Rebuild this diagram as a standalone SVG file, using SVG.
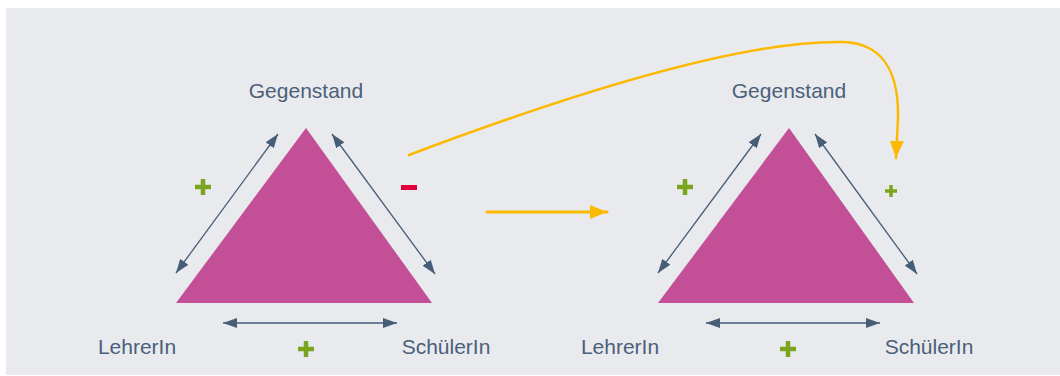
<svg xmlns="http://www.w3.org/2000/svg" width="1060" height="376" viewBox="0 0 1060 376">
<style>
.bg{fill:#e9eaee}
.tri{fill:#c35096}
.lbl{font-family:"Liberation Sans",Arial,sans-serif;font-size:21px;fill:#4b6079;text-anchor:middle}
.rel{stroke:#465d78;stroke-width:1.3;fill:none;marker-start:url(#ah);marker-end:url(#ah)}
.plus{stroke:#7ca51f;stroke-width:4.5;fill:none}
.plus-s{stroke:#7ca51f;stroke-width:3.5;fill:none}
.minus{stroke:#e2003c;stroke-width:5;fill:none}
.flow{stroke:#fbb900;fill:none;stroke-linecap:round}
</style>
<defs>
<marker id="ah" markerUnits="userSpaceOnUse" markerWidth="14" markerHeight="10" refX="14" refY="5" orient="auto-start-reverse">
<path d="M0,0 L14,5 L0,10 Z" fill="#465d78"/>
</marker>
<marker id="ya" markerUnits="userSpaceOnUse" markerWidth="17" markerHeight="14" refX="17" refY="7" orient="auto">
<path d="M0,0 L17,7 L0,14 Z" fill="#fbb900"/>
</marker>
</defs>
<rect class="bg" x="6" y="8" width="1054" height="367"/>

<g id="triangle-before">
<polygon class="tri" points="306,128 176,303 432,303"/>
<text class="lbl" x="306" y="98">Gegenstand</text>
<text class="lbl" x="137" y="354">LehrerIn</text>
<text class="lbl" x="446" y="354">SchülerIn</text>
</g>

<g id="triangle-after">
<polygon class="tri" points="789,128 658,303 914,303"/>
<text class="lbl" x="789" y="98">Gegenstand</text>
<text class="lbl" x="620" y="354">LehrerIn</text>
<text class="lbl" x="929" y="354">SchülerIn</text>
</g>

<g id="signs">
<path class="plus" d="M195,187 H211 M203,179 V195"/>
<path class="minus" d="M401,187.5 H417"/>
<path class="plus" d="M298,349 H314 M306,341 V357"/>
<path class="plus" d="M677,187 H693 M685,179 V195"/>
<path class="plus-s" d="M885,191 H897 M891,185 V197"/>
<path class="plus" d="M780,349 H796 M788,341 V357"/>
</g>

<g id="connectors">
<line class="rel" x1="176" y1="273" x2="278" y2="134"/>
<line class="rel" x1="332" y1="134" x2="435" y2="274"/>
<line class="rel" x1="223" y1="323" x2="397" y2="323"/>
<line class="rel" x1="658" y1="273" x2="761" y2="134"/>
<line class="rel" x1="815" y1="134" x2="917" y2="274"/>
<line class="rel" x1="706" y1="323" x2="880" y2="323"/>
<path class="flow" stroke-width="3" d="M487,212 H607" marker-end="url(#ya)"/>
<path class="flow" stroke-width="2.5" d="M409,155 C560,98 740,40 843,42 C881,43 899,70 898,118 L896,158" marker-end="url(#ya)"/>
</g>
</svg>
